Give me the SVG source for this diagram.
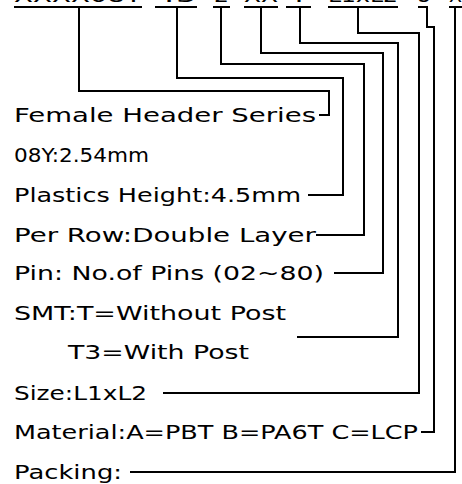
<svg xmlns="http://www.w3.org/2000/svg" width="462" height="484" viewBox="0 0 462 484">
<style>
.t{font-family:"DejaVu Sans","Liberation Sans",sans-serif;font-size:19px;fill:#000}
.c{fill:none;stroke:#000;stroke-width:2}
</style>
<rect width="462" height="484" fill="#fff"/>
<g id="code">
<text class="t" y="1.5"><tspan x="14" textLength="128" lengthAdjust="spacingAndGlyphs">XXXX08Y</tspan><tspan x="155" textLength="42" lengthAdjust="spacingAndGlyphs">45</tspan><tspan x="214" textLength="15" lengthAdjust="spacingAndGlyphs">2</tspan><tspan x="244" textLength="34" lengthAdjust="spacingAndGlyphs">XX</tspan><tspan x="290" textLength="18" lengthAdjust="spacingAndGlyphs">T</tspan><tspan x="328" textLength="70" lengthAdjust="spacingAndGlyphs">L1xL2</tspan><tspan x="418" textLength="12" lengthAdjust="spacingAndGlyphs">S</tspan><tspan x="449" textLength="13" lengthAdjust="spacingAndGlyphs">X</tspan></text>
</g>
<g id="connectors">
<path class="c" d="M14 7H142M79 7V91H329V115H319"/>
<path class="c" d="M155 7H197M177 7V78H343V195H308"/>
<path class="c" d="M213 7H230M221 7V64H364V235H316"/>
<path class="c" d="M244 7H278M261 7V53H383V273H334"/>
<path class="c" d="M286 7H311M300 7V43H398V337H297"/>
<path class="c" d="M328 7H398M358 7V33H419V393H163"/>
<path class="c" d="M418 7H428M427 7V27H434V432H421"/>
<path class="c" d="M449 7H462M455 7V472H130"/>
</g>
<g id="series"><text class="t" x="14" y="122" textLength="302" lengthAdjust="spacingAndGlyphs">Female Header Series</text></g>
<g id="pitch"><text class="t" x="14" y="162" textLength="135" lengthAdjust="spacingAndGlyphs">08Y:2.54mm</text></g>
<g id="height"><text class="t" x="14" y="202" textLength="287" lengthAdjust="spacingAndGlyphs">Plastics Height:4.5mm</text></g>
<g id="row"><text class="t" x="14" y="242" textLength="302" lengthAdjust="spacingAndGlyphs">Per Row:Double Layer</text></g>
<g id="pins"><text class="t" x="14" y="280" textLength="310" lengthAdjust="spacingAndGlyphs">Pin: No.of Pins (02~80)</text></g>
<g id="smt"><text class="t" x="14" y="320" textLength="272" lengthAdjust="spacingAndGlyphs">SMT:T=Without Post</text><text class="t" x="68" y="359" textLength="181" lengthAdjust="spacingAndGlyphs">T3=With Post</text></g>
<g id="size"><text class="t" x="14" y="400" textLength="133" lengthAdjust="spacingAndGlyphs">Size:L1xL2</text></g>
<g id="material"><text class="t" x="14" y="439" textLength="404" lengthAdjust="spacingAndGlyphs">Material:A=PBT B=PA6T C=LCP</text></g>
<g id="packing"><text class="t" x="14" y="479" textLength="108" lengthAdjust="spacingAndGlyphs">Packing:</text></g>
</svg>
